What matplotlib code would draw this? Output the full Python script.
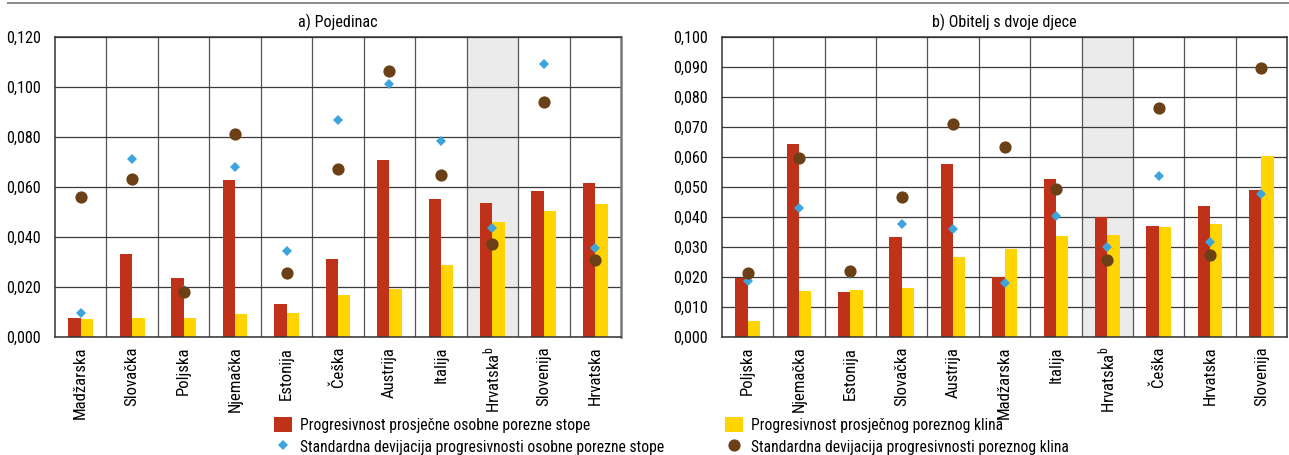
import matplotlib
matplotlib.use("Agg")
import matplotlib.pyplot as plt
from matplotlib import font_manager
from matplotlib.ticker import FuncFormatter, MultipleLocator, FixedLocator
from matplotlib.lines import Line2D
import numpy as np

# Prefer a narrow sans face; fall back to Liberation Sans at a smaller size
installed = {f.name for f in font_manager.fontManager.ttflist}
FACE, FS = "Liberation Sans", 10.2
for name, size in [("Liberation Sans Narrow", 12.3), ("Roboto Condensed", 11.6)]:
    if name in installed:
        FACE, FS = name, size
        break
LEG_FS = FS * 0.97

plt.rcParams['font.family'] = [FACE, 'DejaVu Sans']
plt.rcParams['mathtext.fontset'] = 'custom'
plt.rcParams['mathtext.rm'] = FACE
plt.rcParams['mathtext.it'] = FACE

# --- a) Pojedinac ---
cats_a = ["Madžarska", "Slovačka", "Poljska", "Njemačka", "Estonija", "Češka",
          "Austrija", "Italija", "Hrvatska$^{\\mathrm{b}}$", "Slovenija", "Hrvatska"]
rate_a = [0.0077, 0.0332, 0.0237, 0.0628, 0.0132, 0.0313, 0.0709, 0.0552, 0.0536, 0.0583, 0.0615]
wedge_a = [0.0073, 0.0075, 0.0077, 0.0093, 0.0097, 0.0167, 0.0193, 0.0288, 0.0459, 0.0503, 0.0531]
sd_rate_a = [0.0097, 0.0713, 0.0190, 0.0679, 0.0345, 0.0868, 0.1012, 0.0784, 0.0436, 0.1092, 0.0356]
sd_wedge_a = [0.0559, 0.0633, 0.0179, 0.0811, 0.0256, 0.0671, 0.1064, 0.0648, 0.0372, 0.0940, 0.0308]

# --- b) Obitelj s dvoje djece ---
cats_b = ["Poljska", "Njemačka", "Estonija", "Slovačka", "Austrija", "Madžarska",
          "Italija", "Hrvatska$^{\\mathrm{b}}$", "Češka", "Hrvatska", "Slovenija"]
rate_b = [0.0196, 0.0642, 0.0150, 0.0334, 0.0577, 0.0201, 0.0528, 0.0399, 0.0369, 0.0436, 0.0490]
wedge_b = [0.0052, 0.0154, 0.0158, 0.0162, 0.0268, 0.0292, 0.0338, 0.0341, 0.0366, 0.0376, 0.0603]
sd_rate_b = [0.0187, 0.0429, 0.0209, 0.0378, 0.0361, 0.0180, 0.0402, 0.0300, 0.0538, 0.0316, 0.0476]
sd_wedge_b = [0.0214, 0.0598, 0.0220, 0.0467, 0.0709, 0.0632, 0.0492, 0.0257, 0.0762, 0.0272, 0.0898]

labels = ["Progresivnost prosječne osobne porezne stope",
          "Progresivnost prosječnog poreznog klina",
          "Standardna devijacija progresivnosti osobne porezne stope",
          "Standardna devijacija progresivnosti poreznog klina"]

RED = "#C0311A"
YELLOW = "#FFD400"
BLUE = "#3DA4DC"
BROWN = "#6B4016"
SHADE = "#EBEBEB"
GRID = "#3a3a3a"

W, H = 1289, 455
fig = plt.figure(figsize=(W / 100, H / 100), dpi=100)


def px_axes(x0, y0, x1, y1):
    return fig.add_axes([x0 / W, 1 - y1 / H, (x1 - x0) / W, (y1 - y0) / H])


def panel(ax, cats, rate, wedge, sd_rate, sd_wedge, ymax, step, title, shade_idx):
    x = np.arange(len(cats))
    bw = 0.24
    ax.axvspan(shade_idx - 0.5, shade_idx + 0.5, color=SHADE, zorder=0.1, lw=0)
    b1 = ax.bar(x - bw / 2, rate, bw, color=RED, zorder=2, lw=0)
    b2 = ax.bar(x + bw / 2, wedge, bw, color=YELLOW, zorder=2, lw=0)
    m1, = ax.plot(x, sd_rate, ls="none", marker="D", ms=5.4, color=BLUE, mew=0, zorder=3)
    m2, = ax.plot(x, sd_wedge, ls="none", marker="o", ms=8.8, color=BROWN, mew=0, zorder=4)
    ax.set_xlim(-0.5, len(cats) - 0.5)
    ax.set_ylim(0, ymax)
    ax.yaxis.set_major_locator(MultipleLocator(step))
    ax.yaxis.set_major_formatter(FuncFormatter(lambda v, p: f"{v:.3f}".replace(".", ",")))
    ax.set_xticks(x)
    ax.set_xticklabels(cats, rotation=90, ha="center", va="top")
    ax.xaxis.set_minor_locator(FixedLocator(np.arange(0.5, len(cats) - 1, 1.0)))
    ax.tick_params(axis="both", which="both", length=0, labelsize=FS)
    ax.tick_params(axis="x", labelsize=FS * 1.04, pad=7)
    ax.tick_params(axis="y", pad=10)
    ax.set_axisbelow(True)
    ax.grid(axis="y", which="major", color=GRID, lw=0.9, zorder=1)
    ax.grid(axis="x", which="minor", color="#555555", lw=0.9, zorder=1)
    ax.grid(axis="x", which="major", visible=False)
    for s in ax.spines.values():
        s.set_color("#333333")
        s.set_linewidth(1.1)
    ax.set_title(title, fontsize=FS, pad=7)
    return b1, b2, m1, m2


ax1 = px_axes(55, 37, 621, 337)
ax2 = px_axes(722, 37, 1287, 337)
h = panel(ax1, cats_a, rate_a, wedge_a, sd_rate_a, sd_wedge_a, 0.12, 0.02, "a) Pojedinac", 8)
panel(ax2, cats_b, rate_b, wedge_b, sd_rate_b, sd_wedge_b, 0.10, 0.01, "b) Obitelj s dvoje djece", 7)
ax1.spines["right"].set_color("#777777")
ax1.spines["right"].set_linewidth(1.8)

# thin rule across the top
fig.add_artist(Line2D([8 / W, 1], [1 - 3 / H, 1 - 3 / H], color="#8a8a8a", lw=1.4))

leg_kw = dict(frameon=False, fontsize=LEG_FS, borderpad=0, borderaxespad=0,
              handlelength=1.15, handleheight=1.1, handletextpad=0.5,
              labelspacing=0.4, loc="upper left")
fig.legend([h[0], h[2]], [labels[0], labels[2]],
           bbox_to_anchor=(274 / W, 1 - 417 / H), **leg_kw)
fig.legend([h[1], h[3]], [labels[1], labels[3]],
           bbox_to_anchor=(725 / W, 1 - 417 / H), **leg_kw)

fig.savefig("out.png", dpi=100)
